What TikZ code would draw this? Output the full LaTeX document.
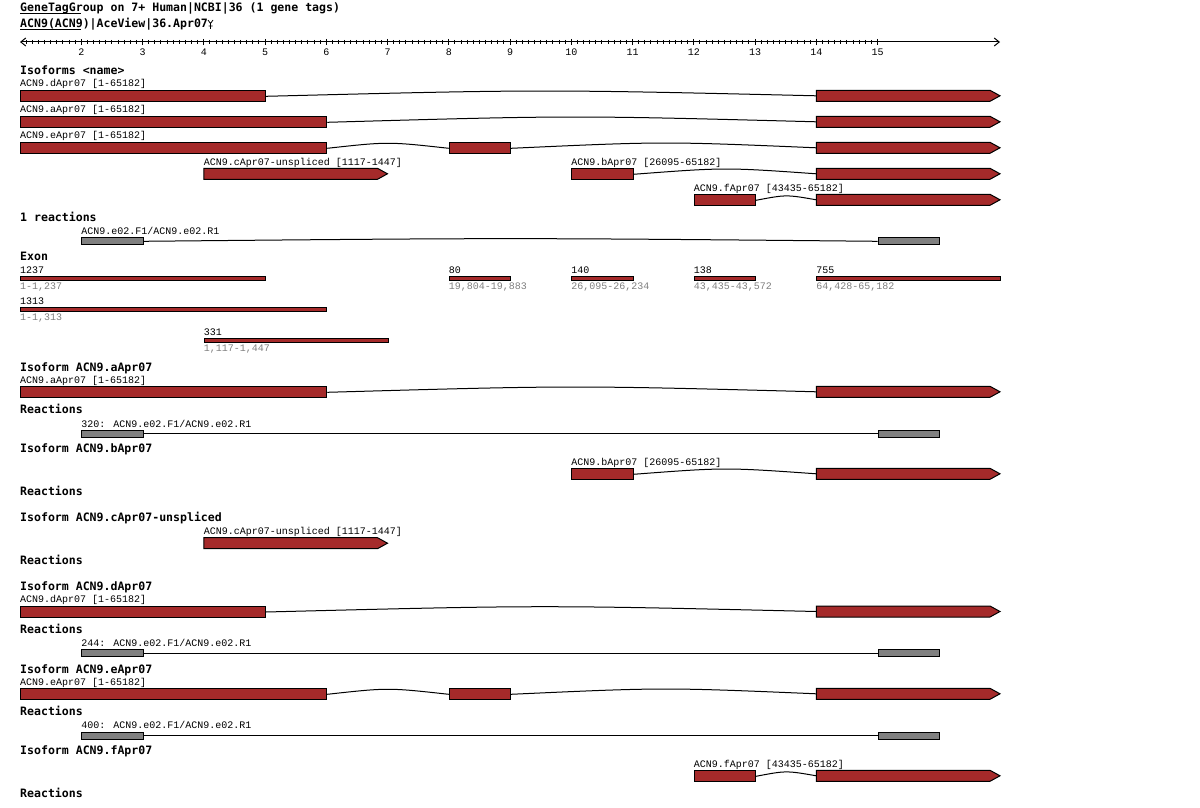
\documentclass[tikz,border=0pt]{standalone}
\usepackage{fontspec}
\usetikzlibrary{calc,arrows.meta}
\newfontfamily\smfam{Liberation Mono}
\newfontfamily\hdfam{DejaVu Sans Mono}
\definecolor{exred}{HTML}{A52A2A}
\definecolor{rgrey}{HTML}{808080}
\definecolor{tgrey}{HTML}{808080}
\tikzset{
 px/.style={x=1pt,y=-1pt},
 hd/.style={anchor=base west, inner sep=0pt, font={\hdfam\bfseries\fontsize{11.55}{13}\selectfont}},
 lbl/.style={anchor=base west, inner sep=0pt, font={\smfam\fontsize{10}{12}\selectfont}},
 glbl/.style={lbl, text=tgrey},
 exon/.style={draw=black, fill=exred, line width=1pt, inner sep=0pt, minimum height=11pt, anchor=north west},
 thinex/.style={exon, minimum height=4pt},
 rbar/.style={draw=black, fill=rgrey, line width=1pt, inner sep=0pt, minimum height=7pt, minimum width=61.25pt, anchor=north west},
 intronline/.style={draw=black, line width=1pt},
 exonpoly/.style={draw=black, fill=exred, line width=1pt, line join=miter},
 rulerline/.style={line width=1pt},
}
% name, x1, x2, top
\newcommand\ExArrow[4]{%
 \draw[exonpoly] (#2,#4) -- ({#3-10},#4) -- (#3,{#4+5.5}) -- ({#3-10},{#4+11}) -- (#2,{#4+11}) -- cycle;
 \coordinate (#1) at (#2,{#4+5.5});}
% from, to, control offset
\newcommand\Intron[3]{\draw[intronline] (#1) .. controls ($(#1)!0.5!(#2)+(0,-#3)$) .. (#2);}
\begin{document}
\begin{tikzpicture}[px]
\fill[white] (0,0) rectangle (1200,808);
\useasboundingbox (0,0) rectangle (1200,808);

% header
\node[hd] (h1) at (20,12) {GeneTagGroup on 7+ Human|NCBI|36 (1 gene tags)};
\draw[rulerline] (20,14) -- (81,14);
\node[hd] (h2) at (20,28) {ACN9(ACN9)|AceView|36.Apr07};
\draw[rulerline] (20,30) -- (81,30);
\draw[line width=0.8pt] (208,20) -- (210.5,23.5) -- (213,20) (210.5,23.5) -- (210.5,29) (208.5,26) -- (212.5,26);

% ruler
\draw[rulerline, {Straight Barb[length=5pt,width=8pt]}-{Straight Barb[length=5pt,width=8pt]}] (20,42) -- (1000,42);
\foreach \i in {1,...,140} {\draw[rulerline] ({20+\i*6.125},40) -- ({20+\i*6.125},44);}
\foreach \k in {2,...,15} {
  \draw[rulerline] ({20+(\k-1)*61.25},39) -- ({20+(\k-1)*61.25},45);
  \node[lbl, anchor=base] (rl\k) at ({20+(\k-1)*61.25},56) {\k};
}

% isoforms overview
\node[hd] (isoh) at (20,74.7) {Isoforms <name>};
\node[lbl] (dl) at (20,87) {ACN9.dApr07 [1-65182]};
\node[exon, minimum width=245pt] (d1) at (20,90.3) {};
\ExArrow{d2}{816.25}{1000}{90.3}
\Intron{d1.east}{d2}{6.7}

\node[lbl] (al) at (20,113) {ACN9.aApr07 [1-65182]};
\node[exon, minimum width=306.25pt] (a1) at (20,116.3) {};
\ExArrow{a2}{816.25}{1000}{116.3}
\Intron{a1.east}{a2}{6.7}

\node[lbl] (el) at (20,139) {ACN9.eApr07 [1-65182]};
\node[exon, minimum width=306.25pt] (e1) at (20,142.3) {};
\node[exon, minimum width=61.25pt] (e2) at (448.75,142.3) {};
\ExArrow{e3}{816.25}{1000}{142.3}
\Intron{e1.east}{e2.west}{6.7}
\Intron{e2.east}{e3}{6.7}

\node[lbl] (cl) at (203.75,165) {ACN9.cApr07-unspliced [1117-1447]};
\ExArrow{c1}{203.75}{387.5}{168.3}

\node[lbl] (bl) at (571.25,165) {ACN9.bApr07 [26095-65182]};
\node[exon, minimum width=61.25pt] (b1) at (571.25,168.3) {};
\ExArrow{b2}{816.25}{1000}{168.3}
\Intron{b1.east}{b2}{6.7}

\node[lbl] (fl) at (693.75,191) {ACN9.fApr07 [43435-65182]};
\node[exon, minimum width=61.25pt] (f1) at (693.75,194.3) {};
\ExArrow{f2}{816.25}{1000}{194.3}
\Intron{f1.east}{f2}{5.5}

% reactions overview
\node[hd] (rh) at (20,221.3) {1 reactions};
\node[lbl] (rlab) at (81.25,234) {ACN9.e02.F1/ACN9.e02.R1};
\node[rbar] (r1) at (81.25,237.3) {};
\node[rbar] (r2) at (877.5,237.3) {};
\Intron{r1.east}{r2.west}{3.5}

% exons
\node[hd] (exh) at (20,260.7) {Exon};
\node[lbl] (n1) at (20,273) {1237};
\node[thinex, minimum width=245pt] (x1) at (20,276) {};
\node[glbl] (g1) at (20,289) {1-1,237};
\node[lbl] (n2) at (448.75,273) {80};
\node[thinex, minimum width=61.25pt] (x2) at (448.75,276) {};
\node[glbl] (g2) at (448.75,289) {19,804-19,883};
\node[lbl] (n3) at (571.25,273) {140};
\node[thinex, minimum width=61.25pt] (x3) at (571.25,276) {};
\node[glbl] (g3) at (571.25,289) {26,095-26,234};
\node[lbl] (n4) at (693.75,273) {138};
\node[thinex, minimum width=61.25pt] (x4) at (693.75,276) {};
\node[glbl] (g4) at (693.75,289) {43,435-43,572};
\node[lbl] (n5) at (816.25,273) {755};
\node[thinex, minimum width=183.75pt] (x5) at (816.25,276) {};
\node[glbl] (g5) at (816.25,289) {64,428-65,182};
\node[lbl] (n6) at (20,304) {1313};
\node[thinex, minimum width=306.25pt] (x6) at (20,306.7) {};
\node[glbl] (g6) at (20,320.5) {1-1,313};
\node[lbl] (n7) at (203.75,335) {331};
\node[thinex, minimum width=183.75pt] (x7) at (203.75,337.7) {};
\node[glbl] (g7) at (203.75,351) {1,117-1,447};

% isoform a
\node[hd] (ia) at (20,371) {Isoform ACN9.aApr07};
\node[lbl] (ial) at (20,383) {ACN9.aApr07 [1-65182]};
\node[exon, minimum width=306.25pt] (ia1) at (20,386.3) {};
\ExArrow{ia2}{816.25}{1000}{386.3}
\Intron{ia1.east}{ia2}{6.7}
\node[hd] (ra) at (20,413.7) {Reactions};
\node[lbl] (ral) at (81.25,427) {320: ACN9.e02.F1/ACN9.e02.R1};
\node[rbar] (ra1) at (81.25,429.7) {};
\node[rbar] (ra2) at (877.5,429.7) {};
\draw[intronline] (ra1.east) -- (ra2.west);

% isoform b
\node[hd] (ib) at (20,452.3) {Isoform ACN9.bApr07};
\node[lbl] (ibl) at (571.25,465) {ACN9.bApr07 [26095-65182]};
\node[exon, minimum width=61.25pt] (ib1) at (571.25,468.3) {};
\ExArrow{ib2}{816.25}{1000}{468.3}
\Intron{ib1.east}{ib2}{6.7}
\node[hd] (rb) at (20,495.3) {Reactions};

% isoform c
\node[hd] (ic) at (20,521.3) {Isoform ACN9.cApr07-unspliced};
\node[lbl] (icl) at (203.75,534.3) {ACN9.cApr07-unspliced [1117-1447]};
\ExArrow{ic1}{203.75}{387.5}{537.7}
\node[hd] (rc) at (20,564.7) {Reactions};

% isoform d
\node[hd] (id) at (20,590.7) {Isoform ACN9.dApr07};
\node[lbl] (idl) at (20,602.7) {ACN9.dApr07 [1-65182]};
\node[exon, minimum width=245pt] (id1) at (20,606) {};
\ExArrow{id2}{816.25}{1000}{606}
\Intron{id1.east}{id2}{6.7}
\node[hd] (rd) at (20,633.3) {Reactions};
\node[lbl] (rdl) at (81.25,646.3) {244: ACN9.e02.F1/ACN9.e02.R1};
\node[rbar] (rd1) at (81.25,649.3) {};
\node[rbar] (rd2) at (877.5,649.3) {};
\draw[intronline] (rd1.east) -- (rd2.west);

% isoform e
\node[hd] (ie) at (20,673) {Isoform ACN9.eApr07};
\node[lbl] (iel) at (20,685) {ACN9.eApr07 [1-65182]};
\node[exon, minimum width=306.25pt] (ie1) at (20,688.3) {};
\node[exon, minimum width=61.25pt] (ie2) at (448.75,688.3) {};
\ExArrow{ie3}{816.25}{1000}{688.3}
\Intron{ie1.east}{ie2.west}{6.7}
\Intron{ie2.east}{ie3}{6.7}
\node[hd] (re) at (20,715.7) {Reactions};
\node[lbl] (rel) at (81.25,728.3) {400: ACN9.e02.F1/ACN9.e02.R1};
\node[rbar] (re1) at (81.25,731.5) {};
\node[rbar] (re2) at (877.5,731.5) {};
\draw[intronline] (re1.east) -- (re2.west);

% isoform f
\node[hd] (if) at (20,754.7) {Isoform ACN9.fApr07};
\node[lbl] (ifl) at (693.75,767) {ACN9.fApr07 [43435-65182]};
\node[exon, minimum width=61.25pt] (if1) at (693.75,770.3) {};
\ExArrow{if2}{816.25}{1000}{770.3}
\Intron{if1.east}{if2}{5.5}
\node[hd] (rf) at (20,797.3) {Reactions};
\end{tikzpicture}
\end{document}
